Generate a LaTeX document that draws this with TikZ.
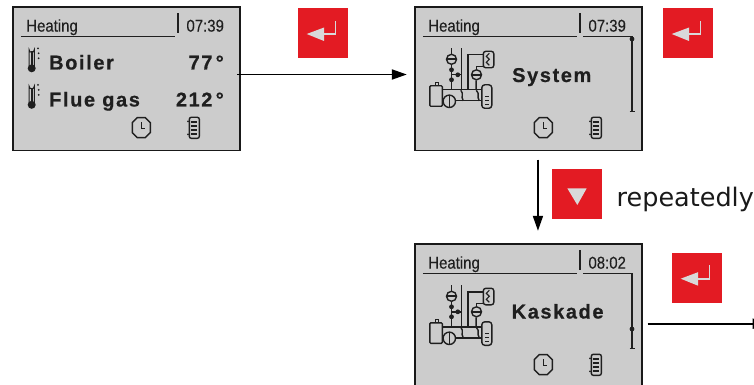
\documentclass[tikz,border=0pt]{standalone}
\usepackage{fontspec}
\setmainfont{Liberation Sans}
\newfontfamily\lcdbold{Liberation Sans Bold}[LetterSpace=8,FakeBold=0.6]
\newfontfamily\lcdthin{Liberation Sans}[FakeBold=0.25]
\newfontfamily\plainfont{DejaVu Sans}
\usetikzlibrary{arrows.meta}
\definecolor{lcdbg}{HTML}{CCCCCC}
\definecolor{lcdink}{HTML}{1F1F1F}
\definecolor{btnred}{HTML}{E31B23}
\definecolor{btnglyph}{HTML}{D9D9D9}
\tikzset{
  lcd/.style={draw=black!90,line width=1.3pt,fill=lcdbg,inner sep=0pt,minimum width=227pt,minimum height=143.5pt,anchor=north west},
  ink/.style={draw=lcdink,line width=1.4pt},
  thin ink/.style={draw=lcdink,line width=1.1pt},
  small text/.style={inner sep=0pt,anchor=base west,text=lcdink,font=\fontsize{17}{17}\lcdthin\selectfont,xscale=.88,transform shape},
  big text/.style={inner sep=0pt,text=lcdink,font=\fontsize{20}{20}\lcdbold\selectfont},
  btn/.style={fill=btnred,draw=none,inner sep=0pt,minimum width=50pt,minimum height=50pt,anchor=north west},
  conn/.style={draw=black,line width=1.9pt,-{Triangle[length=15pt,width=10pt]}},
}
\newcommand\enterglyph[2]{%
  \begin{scope}[shift={(#1,#2)}]
    \fill[btnglyph] (8.7,26) -- (26,19.5) -- (26,33) -- cycle;
    \draw[btnglyph,line width=1.9pt] (25,26) -- (37.5,26) -- (37.5,12.7);
  \end{scope}}
\newcommand\screenbase[5]{% name, x, y, title, time
  \node[lcd] (#1) at (#2,#3) {};
  \begin{scope}[shift={(#2,#3)}]
    \node[small text] (#1title) at (13.8,25.3) {#4};
    \node[small text] (#1time) at (174,25.3) {#5};
    \draw[ink,line width=1.5pt] (8.5,30.2) -- (163,30.2);
    \draw[ink,line width=1.8pt] (165.5,7) -- (165.5,26.5);
    % clock
    \begin{scope}[shift={(129,121.3)}]
      \draw[ink] (-4,-10) -- (4,-10) -- (9,-5) -- (9,5) -- (4,10) -- (-4,10) -- (-9,5) -- (-9,-5) -- cycle;
      \draw[ink] (0,-5.5) -- (0,1) -- (4,1);
    \end{scope}
    % battery
    \begin{scope}[shift={(182,121.5)}]
      \draw[ink,rounded corners=2pt] (-5,-10.5) rectangle (5,10.5);
      \draw[ink,line width=1.4pt] (-3,-6) -- (3,-6) (-3,-2) -- (3,-2) (-3,2) -- (3,2) (-3,6) -- (3,6);
      \fill[lcdink] (-6.3,-6.5) circle (1) (-6.3,6.5) circle (1);
    \end{scope}
  \end{scope}}
\newcommand\thermo[2]{%
  \begin{scope}[shift={(#1,#2)}]
    \draw[thin ink] (-2.6,-2) -- (-2.6,-18.5) arc[start angle=180,end angle=0,radius=2.6] -- (2.6,-2);
    \fill[lcdink] (0,0) circle (4);
    \fill[lcdink] (-.9,-17) rectangle (.9,-2);
    \fill[lcdink] (6.3,-20) circle (1) (7,-15) circle (1) (7,-10) circle (1);
  \end{scope}}
\newcommand\sysicon[2]{%
  \begin{scope}[shift={(#1,#2)}]
    \draw[ink,rounded corners=1pt] (15.5,79.5) rectangle (28,100);
    \draw[ink] (21,79) -- (21,76) -- (24,76) -- (24,79);
    \draw[ink] (28,83.5) -- (68,83.5) (28,94.5) -- (68,94.5);
    \draw[ink,rounded corners=3pt,fill=lcdbg] (67.5,78.5) rectangle (77.5,102);
    \draw[ink,line width=1.2pt] (70.5,90) -- (74.5,90) (70.5,94) -- (74.5,94) (70.5,98) -- (74.5,98);
    \draw[ink,fill=lcdbg] (35,95) circle (6.2);
    \draw[ink] (35,89) -- (35,101);
    \draw[ink] (37.2,42) -- (37.2,83.5);
    \draw[ink,fill=lcdbg] (37.2,53) circle (5);
    \draw[ink,line width=2pt] (32.5,53) -- (42,53);
    \fill[lcdink] (37.2,63.5) circle (2.4) (37.2,73.5) circle (2.4) (43.5,68.5) circle (2.4);
    \draw[ink] (37.2,68.5) -- (47.2,68.5);
    \draw[ink,line width=1.6pt] (47.2,42) -- (47.2,84);
    \draw[ink] (46.5,84) .. controls (50,88) and (46,90) .. (49,94.5);
    \draw[ink] (53.8,83.5) -- (53.8,48.5) -- (69,48.5);
    \draw[ink] (61.8,74) -- (61.8,83.5) (62,84) .. controls (66,88) and (62,90) .. (65,94.5);
    \draw[ink,fill=lcdbg] (62.2,68.5) circle (5);
    \draw[ink,line width=2pt] (57.5,68.5) -- (67,68.5);
    \draw[ink] (62.2,63.5) -- (62.2,60) -- (69,60);
    \draw[ink,rounded corners=2.5pt] (69,45) rectangle (79.5,61.5);
    \draw[ink,line width=1.1pt] (75,47) -- (72,50) -- (75,53) -- (72,56) -- (75,59);
  \end{scope}}
\begin{document}
\begin{tikzpicture}[x=1pt,y=-1pt]
  \useasboundingbox (0,0) rectangle (754,385);
  % Screen A
  \screenbase{scrA}{12.3}{6.3}{Heating}{07:39}
  \node[big text,anchor=base west] (boiler) at (49,69.5) {Boiler};
  \node[big text,anchor=base east] (boilerval) at (224,69.5) {77\,°};
  \node[big text,anchor=base west] (flue) at (49,106.5) {Flue gas};
  \node[big text,anchor=base east] (flueval) at (224,106.5) {212\,°};
  \thermo{31.7}{68.3}
  \thermo{31.7}{104.8}
  % Screen B
  \screenbase{scrB}{414.3}{6.3}{Heating}{07:39}
  \draw[ink,line width=1.5pt] (583,36.5) -- (632,36.5) -- (632,111.5);
  \fill[lcdink] (632,39) circle (2.4);
  \draw[ink] (629.5,111.7) -- (634.5,111.7);
  \sysicon{414.3}{6.3}
  \node[big text,anchor=base west] (system) at (512,82) {System};
  % Screen C
  \screenbase{scrC}{414.3}{243.3}{Heating}{08:02}
  \draw[ink,line width=1.5pt] (583,273.5) -- (632,273.5) -- (632,348);
  \fill[lcdink] (632,329) circle (2.4);
  \draw[ink] (629.5,348.2) -- (634.5,348.2);
  \sysicon{414.3}{243.3}
  \node[big text,anchor=base west] (kaskade) at (511.5,318.5) {Kaskade};
  % Buttons
  \node[btn] (enterA) at (298,8) {};
  \enterglyph{298}{8}
  \node[btn] (enterB) at (663,8) {};
  \enterglyph{663}{8}
  \node[btn] (enterC) at (672,253) {};
  \enterglyph{672}{252.7}
  \node[btn] (down) at (552,169) {};
  \fill[btnglyph] (567.3,188.3) -- (586.7,188.3) -- (577.3,205) -- cycle;
  \node[inner sep=0pt,anchor=base west,font=\fontsize{25.5}{25}\plainfont\selectfont,text=black!90] (rep) at (616.5,206.7) {repeatedly};
  % Connectors
  \draw[conn] ([shift={(-3.5pt,4.2pt)}]scrA.east) -- ([shift={(-7.5pt,4.2pt)}]scrB.west);
  \draw[conn] ([shift={(9.5pt,-8.5pt)}]scrB.south) -- ([shift={(9.5pt,12.5pt)}]scrC.north);
  \coordinate (outC) at ([shift={(125pt,-8pt)}]scrC.east);
  \draw[conn] ([shift={(5pt,-8pt)}]scrC.east) -- (outC);
\end{tikzpicture}
\end{document}
